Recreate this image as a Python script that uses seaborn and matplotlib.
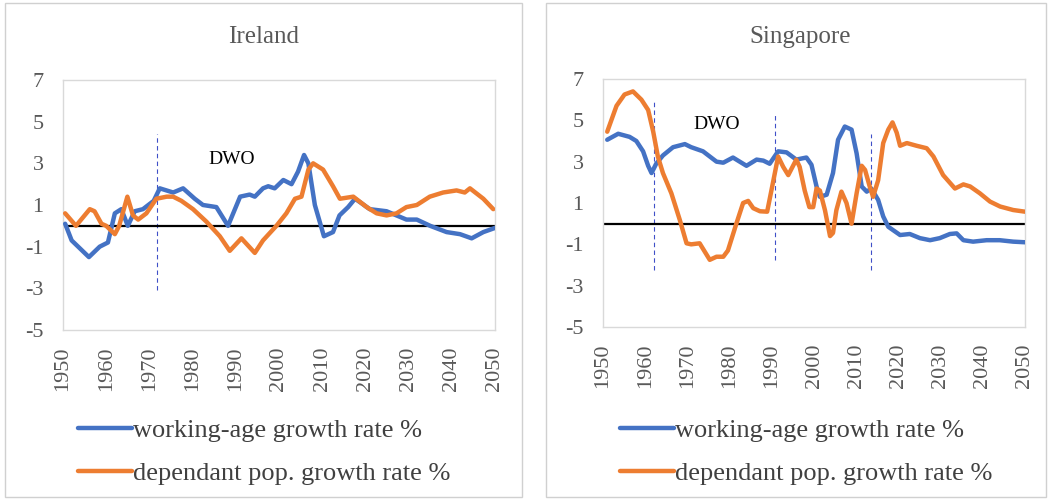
import matplotlib
matplotlib.use("Agg")
import matplotlib.pyplot as plt
import seaborn as sns
import pandas as pd
from matplotlib.patches import Rectangle

# Ireland - working-age population growth rate (%)
ire_work_years = [1950.5, 1952, 1954, 1956, 1958.5, 1960.4, 1962, 1963.5, 1965, 1966.6,
                  1968.5, 1971, 1972.4, 1975.5, 1977.8, 1980.5, 1982.4, 1985.5, 1986.7, 1988.2,
                  1991, 1993.2, 1994.4, 1996.3, 1997.5, 1999, 2001, 2002.9, 2004.4, 2005.8,
                  2006.8, 2008.3, 2010.4, 2012.5, 2014, 2016, 2017.6, 2019, 2021, 2024.9,
                  2027.2, 2029.5, 2031.9, 2035, 2038.8, 2041.9, 2044.6, 2047.3, 2050]
ire_work = [0.1, -0.7, -1.1, -1.5, -1.0, -0.8, 0.6, 0.8, 0.0, 0.7,
            0.8, 1.2, 1.8, 1.6, 1.8, 1.3, 1.0, 0.9, 0.5, 0.0,
            1.4, 1.5, 1.4, 1.8, 1.9, 1.8, 2.2, 2.0, 2.6, 3.4,
            3.0, 1.0, -0.5, -0.3, 0.5, 0.9, 1.3, 1.1, 0.8, 0.7,
            0.5, 0.3, 0.3, 0.0, -0.3, -0.4, -0.6, -0.3, -0.1]

# Ireland - dependant population growth rate (%)
ire_dep_years = [1950.5, 1953, 1956.2, 1957.3, 1958.9, 1960, 1962, 1963, 1964.9, 1966.2,
                 1967.4, 1969.3, 1971.6, 1974, 1975.5, 1977.4, 1980.1, 1983.2, 1986.3, 1988.6,
                 1991.3, 1994.4, 1996.3, 1999.4, 2001.7, 2003.7, 2005.2, 2006.8, 2007.9, 2010.2,
                 2012.5, 2014.1, 2017.2, 2020.3, 2022.6, 2024.9, 2027.2, 2029.5, 2031.9, 2034.9,
                 2038, 2041.1, 2043, 2044.2, 2047.3, 2049.6]
ire_dep = [0.6, 0.0, 0.8, 0.7, 0.1, 0.0, -0.4, 0.0, 1.4, 0.5,
           0.3, 0.6, 1.3, 1.4, 1.4, 1.2, 0.8, 0.2, -0.5, -1.2,
           -0.6, -1.3, -0.7, 0.0, 0.6, 1.3, 1.4, 2.7, 3.0, 2.7,
           1.9, 1.3, 1.4, 0.9, 0.6, 0.5, 0.6, 0.9, 1.0, 1.4,
           1.6, 1.7, 1.6, 1.8, 1.3, 0.8]

# Singapore - working-age population growth rate (%)
sgp_work_years = [1951, 1953.6, 1956.3, 1957.9, 1959.5, 1960.7, 1961.5, 1962.6, 1964.2, 1966.6,
                  1969.4, 1970.9, 1973.7, 1976.9, 1978.5, 1980.8, 1982.4, 1984, 1986.4, 1988,
                  1989.5, 1991.5, 1993.5, 1995.8, 1998.2, 1999.4, 2000.6, 2001.4, 2003, 2004.5,
                  2005.7, 2007.3, 2008.9, 2010.1, 2011.3, 2012.5, 2013.6, 2015.2, 2016.4, 2017.6,
                  2020.4, 2022.7, 2025.1, 2027.5, 2029.8, 2032.2, 2033.8, 2035.4, 2037.7, 2040.9,
                  2044, 2047.2, 2050]
sgp_work = [4.06, 4.35, 4.2, 4.0, 3.5, 2.8, 2.45, 2.9, 3.3, 3.7,
            3.85, 3.7, 3.5, 3.0, 2.95, 3.2, 3.0, 2.8, 3.1, 3.05,
            2.9, 3.5, 3.45, 3.1, 3.2, 2.85, 1.8, 1.3, 1.4, 2.45,
            4.06, 4.7, 4.55, 3.4, 1.8, 1.55, 1.7, 1.15, 0.35, -0.15,
            -0.55, -0.5, -0.7, -0.8, -0.7, -0.5, -0.47, -0.8, -0.87, -0.8,
            -0.8, -0.87, -0.9]

# Singapore - dependant population growth rate (%)
sgp_dep_years = [1951, 1953.2, 1955.1, 1957.1, 1959.1, 1960.7, 1961.9, 1963, 1964.2, 1966.2,
                 1968.2, 1969.8, 1970.9, 1972.9, 1975.3, 1976.9, 1978.5, 1979.6, 1981.6, 1983.2,
                 1984.4, 1985.6, 1987.2, 1988.9, 1989.9, 1991.5, 1992.7, 1993.9, 1995.8, 1996.6,
                 1997.8, 1998.9, 1999.8, 2000.6, 2001.4, 2002.6, 2003.8, 2004.5, 2005.3, 2006.5,
                 2007.7, 2008.9, 2010.1, 2011.3, 2012.1, 2013.2, 2014, 2015.2, 2016.4, 2017.6,
                 2018.6, 2019.6, 2020.4, 2022, 2024.3, 2026.7, 2028.3, 2030.6, 2033.4, 2035.4,
                 2037, 2039.3, 2041.7, 2044.1, 2047.2, 2050]
sgp_dep = [4.45, 5.7, 6.25, 6.4, 6.0, 5.5, 4.45, 3.25, 2.45, 1.47,
           0.18, -0.95, -1.0, -0.95, -1.75, -1.6, -1.6, -1.3, 0.0, 1.0,
           1.1, 0.75, 0.6, 0.58, 1.6, 3.25, 2.75, 2.35, 3.1, 2.75,
           1.6, 0.8, 0.8, 1.7, 1.6, 0.65, -0.6, -0.45, 0.65, 1.55,
           1.0, 0.0, 1.47, 2.8, 2.6, 1.8, 1.3, 2.1, 3.9, 4.55,
           4.9, 4.4, 3.77, 3.9, 3.77, 3.65, 3.25, 2.35, 1.7, 1.9,
           1.8, 1.47, 1.07, 0.83, 0.66, 0.58]

# DWO markers: (year, bottom, top)
ire_dwo_lines = [(1971.8, -3.1, 4.4)]
sgp_dwo_lines = [(1962.1, -2.25, 6.0), (1990.7, -1.76, 5.3), (2013.6, -2.25, 4.35)]
ire_dwo_label = (1989, 3.2)
sgp_dwo_label = (1976.9, 4.8)

labels = ["working-age growth rate %", "dependant pop. growth rate %"]
xticks = list(range(1950, 2051, 10))
yticks = list(range(-5, 8, 2))

BLUE = "#4472C4"
ORANGE = "#ED7D31"
GRAY_TXT = "#595959"

sns.set_theme(style="white")
plt.rcParams["font.family"] = ["Liberation Serif", "DejaVu Serif"]
plt.rcParams["axes.unicode_minus"] = False

fig = plt.figure(figsize=(10.51, 5.0), dpi=100)

# panel frames
W, H = 1051, 500
for x0, x1 in [(5, 522), (546, 1046)]:
    fig.patches.append(Rectangle((x0 / W, 1 - 497 / H), (x1 - x0) / W, (497 - 3) / H,
                                 transform=fig.transFigure, fill=False,
                                 edgecolor="#D0D0D0", lw=1.0))

panels = [
    dict(title="Ireland", rect=(63, 80, 495, 330), title_x=264,
         work=(ire_work_years, ire_work), dep=(ire_dep_years, ire_dep),
         vlines=ire_dwo_lines, dwo=ire_dwo_label, leg_x=78),
    dict(title="Singapore", rect=(603, 79, 1025, 327), title_x=800,
         work=(sgp_work_years, sgp_work), dep=(sgp_dep_years, sgp_dep),
         vlines=sgp_dwo_lines, dwo=sgp_dwo_label, leg_x=620),
]

for p in panels:
    l, t, r, b = p["rect"]
    ax = fig.add_axes([l / W, 1 - b / H, (r - l) / W, (b - t) / H])

    work_df = pd.DataFrame({"year": p["work"][0], "rate": p["work"][1]})
    dep_df = pd.DataFrame({"year": p["dep"][0], "rate": p["dep"][1]})
    sns.lineplot(data=work_df, x="year", y="rate", color=BLUE, lw=3.2,
                 ax=ax, label=labels[0], zorder=3)
    sns.lineplot(data=dep_df, x="year", y="rate", color=ORANGE, lw=3.2,
                 ax=ax, label=labels[1], zorder=3)

    ax.axhline(0, color="black", lw=1.6, zorder=2)
    for yr, lo, hi in p["vlines"]:
        ax.plot([yr, yr], [lo, hi], color="#3F4FC8", lw=0.8,
                dashes=(4, 3), zorder=1)
    ax.text(p["dwo"][0], p["dwo"][1], "DWO", ha="center", va="center",
            fontsize=14, color="black")

    ax.set_xlim(1950, 2050)
    ax.set_ylim(-5, 7)
    ax.set_xticks(xticks)
    ax.set_xticklabels([str(v) for v in xticks], rotation=90)
    ax.set_yticks(yticks)
    ax.tick_params(axis="both", length=0, labelsize=16, labelcolor=GRAY_TXT)
    ax.tick_params(axis="y", pad=14)
    ax.tick_params(axis="x", pad=12)
    ax.set_xlabel("")
    ax.set_ylabel("")
    for s in ax.spines.values():
        s.set_color("#D9D9D9")
        s.set_linewidth(1.0)

    ax.legend(loc="upper left", bbox_to_anchor=(p["leg_x"] / W, 1 - 419 / H),
              bbox_transform=fig.transFigure, frameon=False, fontsize=19,
              handlelength=2.05, handletextpad=0.05, labelspacing=0.72,
              borderpad=0, borderaxespad=0, labelcolor="#404040")

    fig.text(p["title_x"] / W, 1 - 37 / H, p["title"], ha="center", va="center",
             fontsize=18, color=GRAY_TXT)

fig.savefig("out.png", dpi=100)
